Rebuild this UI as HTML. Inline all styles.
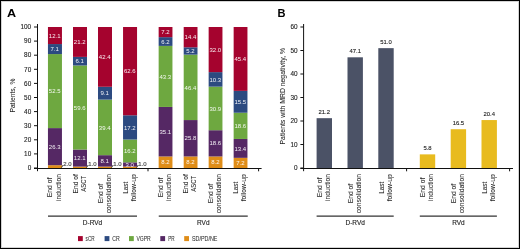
<!DOCTYPE html>
<html><head><meta charset="utf-8"><style>
html,body{margin:0;padding:0;background:#fff;}
body{width:520px;height:249px;overflow:hidden;}
svg{display:block;will-change:transform;}
text{font-family:"Liberation Sans",sans-serif;-webkit-font-smoothing:antialiased;}
.pl{font-size:11.5px;font-weight:bold;fill:#000;}
.tk{font-size:6.4px;fill:#1e1e1e;stroke:#1e1e1e;stroke-width:0.12px;text-anchor:end;}
.yt{font-size:7.9px;fill:#1a1a1a;stroke:#1a1a1a;stroke-width:0.06px;text-anchor:middle;}
.xl{font-size:6.75px;fill:#262626;stroke:#262626;stroke-width:0.06px;text-anchor:middle;}
.gt{font-size:6.5px;fill:#222;stroke:#222;stroke-width:0.12px;text-anchor:middle;}
.lg{font-size:6.3px;fill:#2e2e2e;stroke:#2e2e2e;stroke-width:0.05px;}
.bl{font-size:6.0px;fill:#fff;fill-opacity:0.93;text-anchor:middle;}
.ol{font-size:6.0px;fill:#4a4a4a;stroke:#4a4a4a;stroke-width:0.15px;}
.vl{font-size:5.9px;fill:#1a1a1a;stroke:#1a1a1a;stroke-width:0.1px;text-anchor:middle;}
.ax{stroke:#111;stroke-width:1;}
.gl{stroke:#333;stroke-width:1.15;}
</style></head><body>
<svg width="520" height="249" viewBox="0 0 520 249">
<rect x="0.5" y="0.5" width="519" height="248" fill="#fff" stroke="#000" stroke-width="1"/>
<rect x="1.5" y="1.5" width="517" height="246" fill="none" stroke="#d4d4d4" stroke-width="1"/>
<text x="7.1" y="17.05" class="pl" textLength="9.1" lengthAdjust="spacingAndGlyphs">A</text>
<line x1="37.5" y1="24" x2="37.5" y2="171.2" class="ax"/>
<line x1="34" y1="168" x2="37.5" y2="168" class="ax"/>
<text x="31.2" y="170.25" class="tk">0</text>
<line x1="34" y1="153.9" x2="37.5" y2="153.9" class="ax"/>
<text x="31.2" y="156.15" class="tk">10</text>
<line x1="34" y1="139.8" x2="37.5" y2="139.8" class="ax"/>
<text x="31.2" y="142.05" class="tk">20</text>
<line x1="34" y1="125.7" x2="37.5" y2="125.7" class="ax"/>
<text x="31.2" y="127.95" class="tk">30</text>
<line x1="34" y1="111.6" x2="37.5" y2="111.6" class="ax"/>
<text x="31.2" y="113.85" class="tk">40</text>
<line x1="34" y1="97.5" x2="37.5" y2="97.5" class="ax"/>
<text x="31.2" y="99.75" class="tk">50</text>
<line x1="34" y1="83.4" x2="37.5" y2="83.4" class="ax"/>
<text x="31.2" y="85.65" class="tk">60</text>
<line x1="34" y1="69.3" x2="37.5" y2="69.3" class="ax"/>
<text x="31.2" y="71.55" class="tk">70</text>
<line x1="34" y1="55.2" x2="37.5" y2="55.2" class="ax"/>
<text x="31.2" y="57.45" class="tk">80</text>
<line x1="34" y1="41.1" x2="37.5" y2="41.1" class="ax"/>
<text x="31.2" y="43.35" class="tk">90</text>
<line x1="34" y1="27" x2="37.5" y2="27" class="ax"/>
<text x="31.2" y="29.25" class="tk">100</text>
<line x1="34" y1="168.5" x2="261.6" y2="168.5" class="ax"/>
<line x1="148.0" y1="168" x2="148.0" y2="171.3" class="ax"/>
<line x1="258.6" y1="168" x2="258.6" y2="171.3" class="ax"/>
<text transform="translate(14.6,95.6) rotate(-90)" class="yt" textLength="34" lengthAdjust="spacingAndGlyphs">Patients, %</text>
<rect x="47.95" y="165.18" width="14.0" height="2.82" fill="#df8d18"/>
<rect x="47.95" y="128.1" width="14.0" height="37.08" fill="#552864"/>
<rect x="47.95" y="54.07" width="14.0" height="74.02" fill="#6ea840"/>
<rect x="47.95" y="44.06" width="14.0" height="10.01" fill="#2c4a80"/>
<rect x="47.95" y="27" width="14.0" height="17.06" fill="#a5032e"/>
<text x="63.25" y="166.45" class="ol">2.0</text>
<line x1="61.55" y1="167.5" x2="63.05" y2="165.1" stroke="#222" stroke-width="0.9"/>
<text x="54.65" y="148.79" class="bl">26.3</text>
<text x="54.65" y="93.23" class="bl">52.5</text>
<text x="54.65" y="51.22" class="bl">7.1</text>
<text x="54.65" y="37.68" class="bl">12.1</text>
<rect x="73" y="166.59" width="14.0" height="1.41" fill="#df8d18"/>
<rect x="73" y="149.53" width="14.0" height="17.06" fill="#552864"/>
<rect x="73" y="65.49" width="14.0" height="84.04" fill="#6ea840"/>
<rect x="73" y="56.89" width="14.0" height="8.6" fill="#2c4a80"/>
<rect x="73" y="27" width="14.0" height="29.89" fill="#a5032e"/>
<text x="88.3" y="166.45" class="ol">1.0</text>
<line x1="86.6" y1="167.5" x2="88.1" y2="165.1" stroke="#222" stroke-width="0.9"/>
<text x="79.7" y="160.21" class="bl">12.1</text>
<text x="79.7" y="109.66" class="bl">59.6</text>
<text x="79.7" y="63.34" class="bl">6.1</text>
<text x="79.7" y="44.1" class="bl">21.2</text>
<rect x="98" y="166.59" width="14.0" height="1.41" fill="#df8d18"/>
<rect x="98" y="155.17" width="14.0" height="11.42" fill="#552864"/>
<rect x="98" y="99.62" width="14.0" height="55.55" fill="#6ea840"/>
<rect x="98" y="86.78" width="14.0" height="12.83" fill="#2c4a80"/>
<rect x="98" y="27" width="14.0" height="59.78" fill="#a5032e"/>
<text x="113.3" y="166.45" class="ol">1.0</text>
<line x1="111.6" y1="167.5" x2="113.1" y2="165.1" stroke="#222" stroke-width="0.9"/>
<text x="104.7" y="163.03" class="bl">8.1</text>
<text x="104.7" y="129.54" class="bl">39.4</text>
<text x="104.7" y="95.35" class="bl">9.1</text>
<text x="104.7" y="59.04" class="bl">42.4</text>
<rect x="123.05" y="166.59" width="14.0" height="1.41" fill="#df8d18"/>
<rect x="123.05" y="162.36" width="14.0" height="4.23" fill="#552864"/>
<rect x="123.05" y="139.52" width="14.0" height="22.84" fill="#6ea840"/>
<rect x="123.05" y="115.27" width="14.0" height="24.25" fill="#2c4a80"/>
<rect x="123.05" y="27" width="14.0" height="88.27" fill="#a5032e"/>
<text x="138.35" y="166.45" class="ol">1.0</text>
<line x1="136.65" y1="167.5" x2="138.15" y2="165.1" stroke="#222" stroke-width="0.9"/>
<text x="129.75" y="166.63" class="bl">3.0</text>
<text x="129.75" y="153.09" class="bl">16.2</text>
<text x="129.75" y="129.54" class="bl">17.2</text>
<text x="129.75" y="73.28" class="bl">62.6</text>
<rect x="158.65" y="156.44" width="13.8" height="11.56" fill="#df8d18"/>
<rect x="158.65" y="106.95" width="13.8" height="49.49" fill="#552864"/>
<rect x="158.65" y="45.89" width="13.8" height="61.05" fill="#6ea840"/>
<rect x="158.65" y="37.15" width="13.8" height="8.74" fill="#2c4a80"/>
<rect x="158.65" y="27" width="13.8" height="10.15" fill="#a5032e"/>
<text x="165.35" y="164.37" class="bl">8.2</text>
<text x="165.35" y="133.84" class="bl">35.1</text>
<text x="165.35" y="78.57" class="bl">43.3</text>
<text x="165.35" y="43.67" class="bl">6.2</text>
<text x="165.35" y="34.23" class="bl">7.2</text>
<rect x="183.7" y="156.44" width="13.8" height="11.56" fill="#df8d18"/>
<rect x="183.7" y="120.06" width="13.8" height="36.38" fill="#552864"/>
<rect x="183.7" y="54.64" width="13.8" height="65.42" fill="#6ea840"/>
<rect x="183.7" y="47.3" width="13.8" height="7.33" fill="#2c4a80"/>
<rect x="183.7" y="27" width="13.8" height="20.3" fill="#a5032e"/>
<text x="190.4" y="164.37" class="bl">8.2</text>
<text x="190.4" y="140.4" class="bl">25.8</text>
<text x="190.4" y="89.5" class="bl">46.4</text>
<text x="190.4" y="53.12" class="bl">5.2</text>
<text x="190.4" y="39.3" class="bl">14.4</text>
<rect x="208.65" y="156.44" width="13.8" height="11.56" fill="#df8d18"/>
<rect x="208.65" y="130.21" width="13.8" height="26.23" fill="#552864"/>
<rect x="208.65" y="86.64" width="13.8" height="43.57" fill="#6ea840"/>
<rect x="208.65" y="72.12" width="13.8" height="14.52" fill="#2c4a80"/>
<rect x="208.65" y="27" width="13.8" height="45.12" fill="#a5032e"/>
<text x="215.35" y="164.37" class="bl">8.2</text>
<text x="215.35" y="145.47" class="bl">18.6</text>
<text x="215.35" y="110.58" class="bl">30.9</text>
<text x="215.35" y="81.53" class="bl">10.3</text>
<text x="215.35" y="51.71" class="bl">32.0</text>
<rect x="233.65" y="157.85" width="13.8" height="10.15" fill="#df8d18"/>
<rect x="233.65" y="138.95" width="13.8" height="18.89" fill="#552864"/>
<rect x="233.65" y="112.73" width="13.8" height="26.23" fill="#6ea840"/>
<rect x="233.65" y="90.87" width="13.8" height="21.86" fill="#2c4a80"/>
<rect x="233.65" y="27" width="13.8" height="63.87" fill="#a5032e"/>
<text x="240.35" y="165.07" class="bl">7.2</text>
<text x="240.35" y="150.55" class="bl">13.4</text>
<text x="240.35" y="127.99" class="bl">18.6</text>
<text x="240.35" y="103.95" class="bl">15.5</text>
<text x="240.35" y="61.02" class="bl">45.4</text>
<text transform="translate(52.45,187.4) rotate(-90)" class="xl">End of</text>
<text transform="translate(60.55,187.4) rotate(-90)" class="xl">induction</text>
<text transform="translate(77.5,183.8) rotate(-90)" class="xl">End of</text>
<text transform="translate(85.6,183.8) rotate(-90)" class="xl" textLength="15.8" lengthAdjust="spacingAndGlyphs">ASCT</text>
<text transform="translate(102.5,193.6) rotate(-90)" class="xl">End of</text>
<text transform="translate(110.6,193.6) rotate(-90)" class="xl">consolidation</text>
<text transform="translate(127.55,187.8) rotate(-90)" class="xl" textLength="12.1" lengthAdjust="spacingAndGlyphs">Last</text>
<text transform="translate(135.65,187.8) rotate(-90)" class="xl">follow-up</text>
<text transform="translate(163.15,187.4) rotate(-90)" class="xl">End of</text>
<text transform="translate(171.25,187.4) rotate(-90)" class="xl">induction</text>
<text transform="translate(188.2,183.8) rotate(-90)" class="xl">End of</text>
<text transform="translate(196.3,183.8) rotate(-90)" class="xl" textLength="15.8" lengthAdjust="spacingAndGlyphs">ASCT</text>
<text transform="translate(213.15,193.6) rotate(-90)" class="xl">End of</text>
<text transform="translate(221.25,193.6) rotate(-90)" class="xl">consolidation</text>
<text transform="translate(238.15,187.8) rotate(-90)" class="xl" textLength="12.1" lengthAdjust="spacingAndGlyphs">Last</text>
<text transform="translate(246.25,187.8) rotate(-90)" class="xl">follow-up</text>
<line x1="48" y1="216.1" x2="137" y2="216.1" class="gl"/>
<line x1="158.75" y1="216.1" x2="247.75" y2="216.1" class="gl"/>
<text x="92.5" y="224.8" class="gt">D-RVd</text>
<text x="203.25" y="224.8" class="gt">RVd</text>
<rect x="78.0" y="236.1" width="4.8" height="5" fill="#a5032e"/>
<text x="85.6" y="240.9" class="lg" textLength="9.0" lengthAdjust="spacingAndGlyphs">sCR</text>
<rect x="104.6" y="236.1" width="4.8" height="5" fill="#2c4a80"/>
<text x="112.2" y="240.9" class="lg" textLength="7.5" lengthAdjust="spacingAndGlyphs">CR</text>
<rect x="129.0" y="236.1" width="4.8" height="5" fill="#6ea840"/>
<text x="136.4" y="240.9" class="lg" textLength="14.4" lengthAdjust="spacingAndGlyphs">VGPR</text>
<rect x="160.3" y="236.1" width="4.8" height="5" fill="#552864"/>
<text x="168.2" y="240.9" class="lg" textLength="6.4" lengthAdjust="spacingAndGlyphs">PR</text>
<rect x="184.2" y="236.1" width="4.8" height="5" fill="#df8d18"/>
<text x="191.9" y="240.9" class="lg" textLength="25.6" lengthAdjust="spacingAndGlyphs">SD/PD/NE</text>
<text x="277.4" y="16.95" class="pl" textLength="8.0" lengthAdjust="spacingAndGlyphs">B</text>
<line x1="303.6" y1="24" x2="303.6" y2="171.2" class="ax"/>
<line x1="300.4" y1="168" x2="303.6" y2="168" class="ax"/>
<text x="297.6" y="170.25" class="tk">0</text>
<line x1="300.4" y1="144.5" x2="303.6" y2="144.5" class="ax"/>
<text x="297.6" y="146.75" class="tk">10</text>
<line x1="300.4" y1="121" x2="303.6" y2="121" class="ax"/>
<text x="297.6" y="123.25" class="tk">20</text>
<line x1="300.4" y1="97.5" x2="303.6" y2="97.5" class="ax"/>
<text x="297.6" y="99.75" class="tk">30</text>
<line x1="300.4" y1="74" x2="303.6" y2="74" class="ax"/>
<text x="297.6" y="76.25" class="tk">40</text>
<line x1="300.4" y1="50.5" x2="303.6" y2="50.5" class="ax"/>
<text x="297.6" y="52.75" class="tk">50</text>
<line x1="300.4" y1="27" x2="303.6" y2="27" class="ax"/>
<text x="297.6" y="29.25" class="tk">60</text>
<line x1="300.4" y1="168.5" x2="513" y2="168.5" class="ax"/>
<line x1="406.6" y1="168" x2="406.6" y2="171.3" class="ax"/>
<line x1="509.6" y1="168" x2="509.6" y2="171.3" class="ax"/>
<text transform="translate(284.8,96.2) rotate(-90)" class="yt" textLength="96.5" lengthAdjust="spacingAndGlyphs">Patients with MRD negativity, %</text>
<rect x="316.6" y="118.18" width="15.4" height="49.82" fill="#4b5266"/>
<text x="324.3" y="114.08" class="vl">21.2</text>
<rect x="347.5" y="57.31" width="15.4" height="110.69" fill="#4b5266"/>
<text x="355.2" y="53.21" class="vl">47.1</text>
<rect x="378.3" y="48.15" width="15.4" height="119.85" fill="#4b5266"/>
<text x="386" y="44.05" class="vl">51.0</text>
<rect x="419.8" y="154.37" width="15.4" height="13.63" fill="#e8bb1f"/>
<text x="427.5" y="150.27" class="vl">5.8</text>
<rect x="450.7" y="129.22" width="15.4" height="38.78" fill="#e8bb1f"/>
<text x="458.4" y="125.12" class="vl">16.5</text>
<rect x="481.5" y="120.06" width="15.4" height="47.94" fill="#e8bb1f"/>
<text x="489.2" y="115.96" class="vl">20.4</text>
<text transform="translate(321.8,187.4) rotate(-90)" class="xl">End of</text>
<text transform="translate(329.9,187.4) rotate(-90)" class="xl">induction</text>
<text transform="translate(352.7,193.6) rotate(-90)" class="xl">End of</text>
<text transform="translate(360.8,193.6) rotate(-90)" class="xl">consolidation</text>
<text transform="translate(383.5,187.8) rotate(-90)" class="xl" textLength="12.1" lengthAdjust="spacingAndGlyphs">Last</text>
<text transform="translate(391.6,187.8) rotate(-90)" class="xl">follow-up</text>
<text transform="translate(425,187.4) rotate(-90)" class="xl">End of</text>
<text transform="translate(433.1,187.4) rotate(-90)" class="xl">induction</text>
<text transform="translate(455.9,193.6) rotate(-90)" class="xl">End of</text>
<text transform="translate(464,193.6) rotate(-90)" class="xl">consolidation</text>
<text transform="translate(486.7,187.8) rotate(-90)" class="xl" textLength="12.1" lengthAdjust="spacingAndGlyphs">Last</text>
<text transform="translate(494.8,187.8) rotate(-90)" class="xl">follow-up</text>
<line x1="316.6" y1="216.1" x2="393.7" y2="216.1" class="gl"/>
<line x1="419.8" y1="216.1" x2="496.9" y2="216.1" class="gl"/>
<text x="355.2" y="224.8" class="gt">D-RVd</text>
<text x="458.4" y="224.8" class="gt">RVd</text>
</svg>
</body></html>
